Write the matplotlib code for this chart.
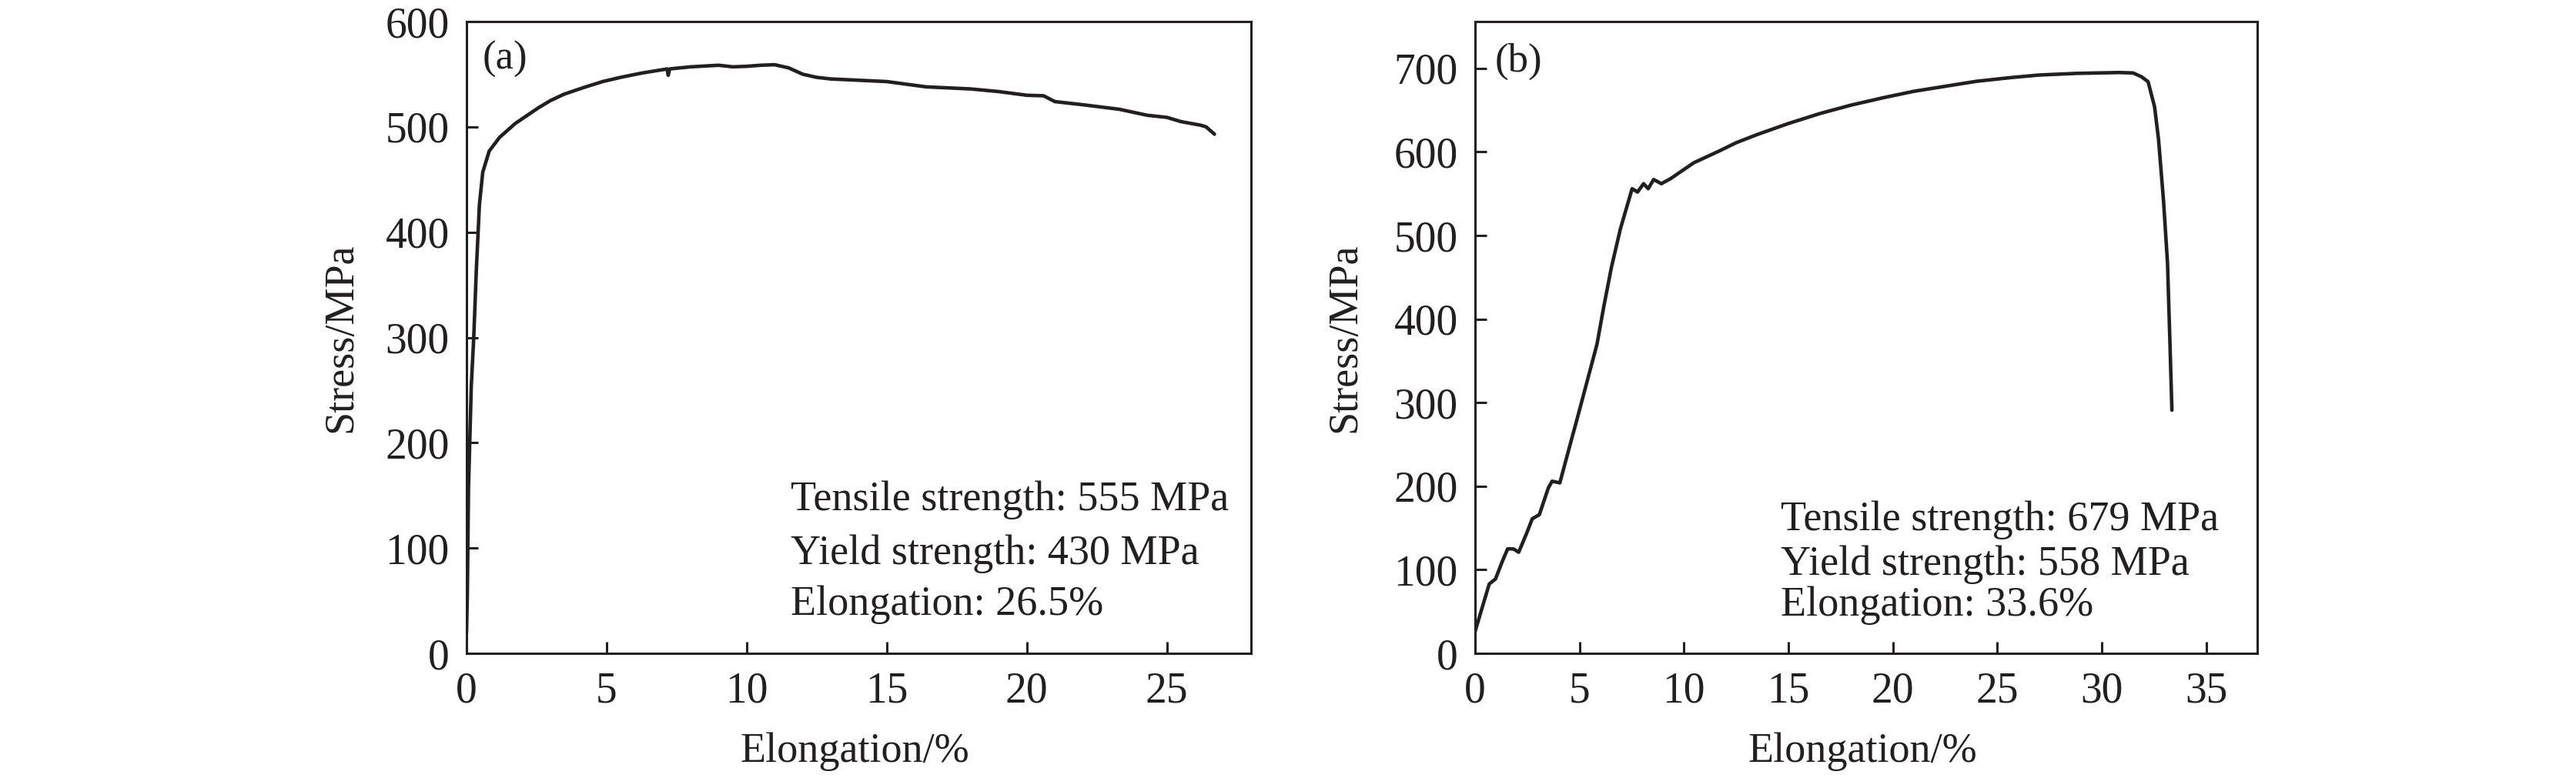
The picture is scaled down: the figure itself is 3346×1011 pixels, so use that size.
import matplotlib
matplotlib.use("Agg")
from matplotlib import pyplot as plt

plt.rcParams['font.family'] = ['Liberation Serif', 'DejaVu Serif']
plt.rcParams['mathtext.fontset'] = 'stix'

INK = '#231f20'

# (a) 应力-应变曲线
strain_a = [0, 0.03, 0.07, 0.17, 0.26, 0.35, 0.42, 0.46, 0.58, 0.81, 1.18, 1.73, 2.56, 3.0, 3.48,
            4.2, 4.86, 5.5, 6.24, 7.16, 7.2, 7.25, 7.62, 8.0, 9.0, 9.5, 10.0, 10.5, 11.0, 11.5,
            12.0, 12.5, 13.0, 15.0, 16.4, 18.0, 19.0, 20.0, 20.6, 21.0, 22.0, 23.3, 24.3, 25.0,
            25.5, 26.2, 26.4, 26.7]
stress_a = [20, 57, 156, 254, 301, 364, 403, 426, 457, 477, 490, 503, 518, 525, 531,
            537.5, 543, 547, 551, 555, 549, 555, 556, 557, 558.5, 557, 557.5, 558.5, 559, 556,
            550, 547, 545.5, 543, 538, 536, 533.5, 530, 529.5, 524, 521, 516.7, 511, 509,
            505, 501.6, 500, 493]
# (b)
strain_b = [0, 0.37, 0.68, 0.98, 1.29, 1.56, 1.84, 2.09, 2.46, 2.74, 3.08, 3.51, 3.69, 4.06,
            4.49, 4.86, 5.35, 5.84, 6.15, 6.53, 6.96, 7.52, 7.78, 8.07, 8.29, 8.55, 8.92, 9.36,
            10.47, 11.68, 12.5, 13.53, 15.0, 16.52, 18.0, 19.57, 21.0, 22.62, 24.0, 25.67, 27.0,
            28.8, 30.85, 31.5, 31.9, 32.22, 32.53, 32.72, 32.96, 33.15, 33.27, 33.36]
stress_b = [26, 57, 83, 89, 109, 125, 125, 121, 143, 161, 166, 198, 206, 204,
            244, 278, 324, 370, 413, 462, 508, 556, 552, 562, 556, 567, 562, 568,
            587, 601, 611, 621, 634, 646, 656, 665, 672.5, 679, 684.5, 689, 692,
            694, 695, 694.5, 690, 684, 654, 615, 541, 467, 368, 291]

notes_a = ["Tensile strength: 555 MPa", "Yield strength: 430 MPa", "Elongation: 26.5%"]
notes_b = ["Tensile strength: 679 MPa", "Yield strength: 558 MPa", "Elongation: 33.6%"]

fig = plt.figure(figsize=(33.46, 10.11), dpi=100)
ax_a = fig.add_axes([0.1811, 0.1602, 0.3045, 0.8121])
ax_b = fig.add_axes([0.5726, 0.1602, 0.3037, 0.8121])

panels = [
    (ax_a, strain_a, stress_a, (0, 28), (0, 600), range(0, 601, 100), range(0, 26, 5),
     "(a)", (0.58, 555), notes_a, 11.58, [136, 85, 36.8], -0.160),
    (ax_b, strain_b, stress_b, (0, 37.45), (0, 756), range(0, 701, 100), range(0, 36, 5),
     "(b)", (0.96, 696), notes_b, 14.63, [147, 94, 45], -0.166),
]

for ax, xs, ys, xl, yl, yt, xt, tag, tagpos, notes, nx, ny, ylab_x in panels:
    ax.plot(xs, ys, color=INK, lw=3.3, solid_joinstyle='round', solid_capstyle='round')
    ax.set_xlim(*xl)
    ax.set_ylim(*yl)
    ax.set_xticks(list(xt))
    ax.set_yticks(list(yt))
    for s in ax.spines.values():
        s.set_linewidth(2.2)
        s.set_color(INK)
    ax.tick_params(direction='in', length=11, width=2.2, color=INK,
                   labelsize=40, labelcolor=INK, top=False, right=False)
    ax.tick_params(axis='x', pad=17)
    ax.tick_params(axis='y', pad=16)
    ax.set_xlabel("Elongation/%", fontsize=39, color=INK, va='baseline')
    ax.xaxis.set_label_coords(0.495, -0.172)
    ax.set_ylabel("Stress/MPa", fontsize=39, color=INK, va='center')
    ax.yaxis.set_label_coords(ylab_x, 0.5)
    ax.text(tagpos[0], tagpos[1], tag, fontsize=38, color=INK, va='baseline')
    for t, y in zip(notes, ny):
        ax.text(nx, y, t, fontsize=39, color=INK, va='baseline', ha='left')

fig.savefig("out.png", dpi=100)
